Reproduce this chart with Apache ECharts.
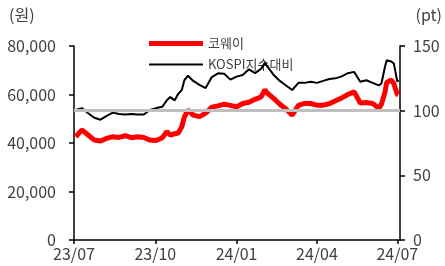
<!DOCTYPE html>
<html><head><meta charset="utf-8">
<script src="https://cdn.jsdelivr.net/npm/echarts@6/dist/echarts.min.js"></script>
<style>html,body{margin:0;padding:0;background:#fff}#c{width:445px;height:266px}</style>
</head><body><div id="c"></div>
<script>
const dates = ['2023-07-03','2023-07-10','2023-07-17','2023-07-24','2023-07-31','2023-08-07','2023-08-14','2023-08-21','2023-08-28','2023-09-04','2023-09-11','2023-09-18','2023-09-25','2023-10-02','2023-10-09','2023-10-14','2023-10-18','2023-10-23','2023-10-27','2023-10-31','2023-11-03','2023-11-07','2023-11-13','2023-11-20','2023-11-27','2023-12-04','2023-12-11','2023-12-18','2023-12-25','2024-01-01','2024-01-08','2024-01-15','2024-01-22','2024-01-29','2024-02-02','2024-02-05','2024-02-12','2024-02-19','2024-02-26','2024-03-04','2024-03-11','2024-03-18','2024-03-25','2024-04-01','2024-04-08','2024-04-15','2024-04-22','2024-04-29','2024-05-06','2024-05-13','2024-05-20','2024-05-27','2024-06-03','2024-06-10','2024-06-13','2024-06-17','2024-06-19','2024-06-24','2024-06-27','2024-07-01','2024-07-02'];
const coway = [42600,45400,43300,41200,40800,41900,42600,42300,43000,42200,42600,42300,41200,41000,42200,44700,43300,43800,44100,46700,50800,53600,51500,50900,52300,54800,55300,56000,55500,54900,56300,56800,58000,59100,61900,60500,58400,56000,54000,51500,55500,56300,56300,55600,55600,56200,57400,58600,60000,61100,56500,56700,56300,54300,56000,61000,65000,66000,64500,60000,59800];
const kospiRel = [100.5,102,98,94.5,93,96,98.5,97.5,97,97.5,97,97,100.5,102,103,108,110.5,108,113,116,123.7,127,123,120,117.5,126,128.9,128.5,124,126.3,127.6,132,129,132.5,137,134,127.6,123,119.5,116,121.5,121.5,122.4,121.5,123,124.5,125,126.5,129,130,122.4,123.5,121.5,119.5,121,134,139,138,136.6,122.4,123.7];
const xTicks = ['2023-07-01','2023-10-01','2024-01-01','2024-04-01','2024-07-01'];
const leftTicks = [0,20000,40000,60000,80000];
const rightTicks = [0,50,100,150];
const baseLine = 100;
const names = ['코웨이','KOSPI지수대비'];

function ts(s){const p=s.split('-').map(Number);return Date.UTC(p[0],p[1]-1,p[2]);}
const tickTs = xTicks.map(ts);
const FONT = '"Noto Sans CJK KR","Noto Sans",sans-serif';
const TXT = '#404040';
const chart = echarts.init(document.getElementById('c'), null, {renderer:'canvas'});
const axisCommon = {
  axisLine:{show:true,lineStyle:{color:'#000',width:1.5}},
  axisTick:{show:true,length:5,lineStyle:{color:'#000',width:1.5}},
  splitLine:{show:false},
  axisLabel:{color:TXT,fontSize:16,fontFamily:FONT}
};
const legendCommon = {orient:'vertical', left:144, itemWidth:54, itemGap:5, icon:'rect',
  textStyle:{fontSize:13,color:TXT,fontFamily:FONT}};
chart.setOption({
  animation:false,
  textStyle:{fontFamily:FONT},
  grid:{left:74,right:45,top:46,bottom:26,containLabel:false},
  legend:[
    Object.assign({},legendCommon,{data:[names[0]],top:32,itemHeight:5}),
    Object.assign({},legendCommon,{data:[names[1]],top:53,itemHeight:2})
  ],
  graphic:[
    {type:'text',left:9,top:7,style:{text:'(원)',fontSize:16,fill:TXT,fontFamily:FONT}},
    {type:'text',right:3,top:7,style:{text:'(pt)',fontSize:16,fill:TXT,fontFamily:FONT}}
  ],
  xAxis:{
    type:'value', min:ts('2023-07-01'), max:ts('2024-07-04'),
    axisLine:{show:true,onZero:false,lineStyle:{color:'#000',width:1.5}},
    axisTick:{show:true,length:4,customValues:tickTs,lineStyle:{color:'#000',width:1.5}},
    splitLine:{show:false},
    axisLabel:{customValues:tickTs,color:TXT,fontSize:16,fontFamily:FONT,margin:6,hideOverlap:false,showMinLabel:true,showMaxLabel:true,
      formatter:function(v){const d=new Date(v);return String(d.getUTCFullYear()).slice(2)+'/'+String(d.getUTCMonth()+1).padStart(2,'0');}}
  },
  yAxis:[
    Object.assign({},axisCommon,{type:'value',min:leftTicks[0],max:leftTicks[leftTicks.length-1],interval:leftTicks[1]-leftTicks[0],position:'left',
      axisLabel:Object.assign({},axisCommon.axisLabel,{margin:18,formatter:function(v){return v.toLocaleString('en-US');}})}),
    Object.assign({},axisCommon,{type:'value',min:rightTicks[0],max:rightTicks[rightTicks.length-1],interval:rightTicks[1]-rightTicks[0],position:'right',
      axisLabel:Object.assign({},axisCommon.axisLabel,{margin:13})})
  ],
  series:[
    {name:'base',type:'line',yAxisIndex:1,data:[],z:1,silent:true,
      markLine:{silent:true,symbol:'none',label:{show:false},lineStyle:{color:'#BFBFBF',width:3,type:'solid'},data:[{yAxis:baseLine}]}},
    {name:names[0],type:'line',yAxisIndex:0,symbol:'none',z:3,
      data:dates.map((d,i)=>[ts(d),coway[i]]),lineStyle:{color:'#FF0000',width:5},itemStyle:{color:'#FF0000'}},
    {name:names[1],type:'line',yAxisIndex:1,symbol:'none',z:4,
      data:dates.map((d,i)=>[ts(d),kospiRel[i]]),lineStyle:{color:'#000',width:2},itemStyle:{color:'#000'}}
  ]
});
</script></body></html>
